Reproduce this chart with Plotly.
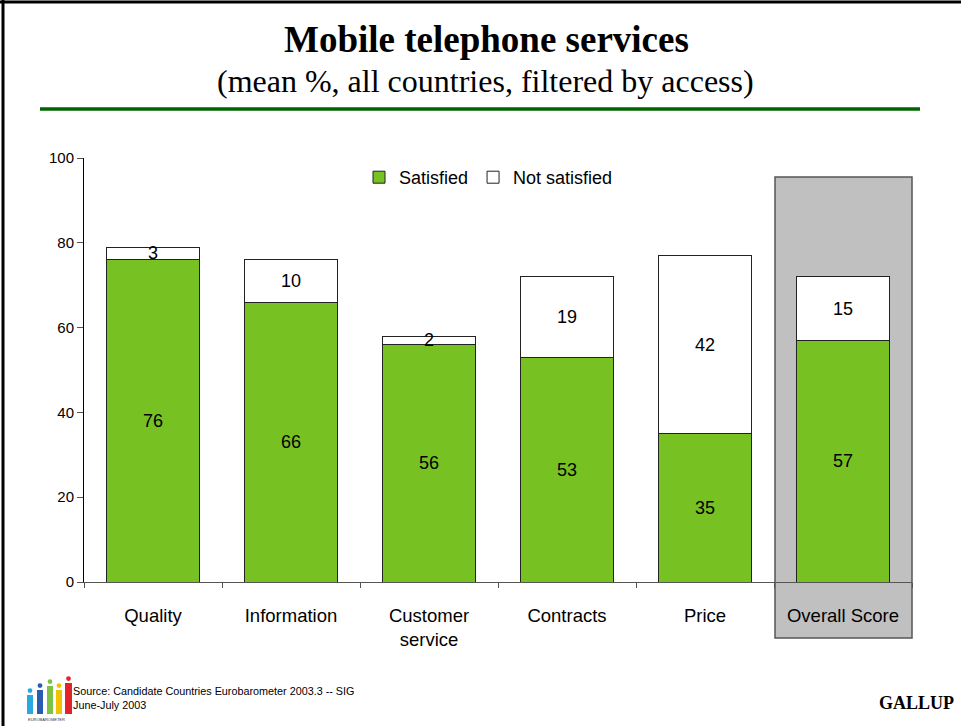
import plotly.graph_objects as go

categories = ["Quality", "Information", "Customer<br>service", "Contracts", "Price", "Overall Score"]
satisfied = [76, 66, 56, 53, 35, 57]
not_satisfied = [3, 10, 2, 19, 42, 15]
y_ticks = [0, 20, 40, 60, 80, 100]

GREEN = "#78C123"
W, H = 961, 726
L, R, T, B = 84, 49, 158, 144
SANS = "Arial, Liberation Sans"
SERIF = "Liberation Serif, Times New Roman"

fig = go.Figure()
for vals, name, col in [(satisfied, "Satisfied", GREEN), (not_satisfied, "Not satisfied", "white")]:
    fig.add_trace(go.Bar(
        x=categories, y=vals, name=name,
        marker=dict(color=col, line=dict(color="#222222", width=1)),
        text=vals, textposition="inside", insidetextanchor="middle",
        constraintext="none", textangle=0,
        textfont=dict(family=SANS, size=18, color="black"),
        width=0.667,
    ))


def px_x(p):
    return (p - L) / (W - L - R)


def px_y(p):
    return (H - B - p) / (H - T - B)


shapes = [
    # highlight panel behind the overall score
    dict(type="rect", xref="paper", yref="paper", layer="below",
         x0=px_x(775), x1=px_x(912), y0=px_y(638), y1=px_y(177),
         fillcolor="#C0C0C0", line=dict(color="#555555", width=1.5)),
    # header rule
    dict(type="line", xref="paper", yref="paper",
         x0=px_x(40), x1=px_x(920), y0=px_y(109), y1=px_y(109),
         line=dict(color="#006400", width=3.5)),
    # slide frame (top and left)
    dict(type="line", xref="paper", yref="paper",
         x0=px_x(0), x1=px_x(961), y0=px_y(2), y1=px_y(2),
         line=dict(color="black", width=3)),
    dict(type="line", xref="paper", yref="paper",
         x0=px_x(3), x1=px_x(3), y0=px_y(0), y1=px_y(726),
         line=dict(color="black", width=3)),
]

# Eurobarometer logo: coloured figures
logo = [("#2AA9E0", 27, 695, 6), ("#2A5DB0", 37, 690, 6), ("#7DC242", 47, 686, 6),
        ("#F2C200", 56, 690, 6), ("#E2232A", 65, 683, 7)]
for col, xl, ytop, w in logo:
    shapes.append(dict(type="rect", xref="paper", yref="paper",
                       x0=px_x(xl), x1=px_x(xl + w), y0=px_y(714), y1=px_y(ytop),
                       fillcolor=col, line=dict(width=0)))
    shapes.append(dict(type="circle", xref="paper", yref="paper",
                       x0=px_x(xl + w / 2 - 2.4), x1=px_x(xl + w / 2 + 2.4),
                       y0=px_y(ytop - 2), y1=px_y(ytop - 6.8),
                       fillcolor=col, line=dict(width=0)))

annotations = [
    dict(text="<b>Mobile telephone services</b>", x=px_x(486), y=px_y(40),
         font=dict(family=SERIF, size=37, color="black")),
    dict(text="(mean %, all countries, filtered by access)", x=px_x(485), y=px_y(81),
         font=dict(family=SERIF, size=32, color="black")),
    dict(text="Source: Candidate Countries Eurobarometer 2003.3 -- SIG<br>June-July 2003",
         x=px_x(71), y=px_y(698), xanchor="left", align="left",
         font=dict(family=SANS, size=10.8, color="black")),
    dict(text="EUROBAROMETER", x=px_x(46), y=px_y(719),
         font=dict(family=SANS, size=4, color="#333333")),
    dict(text="<b>GALLUP</b>", x=px_x(956), y=px_y(703), xanchor="right",
         font=dict(family=SERIF, size=18, color="black")),
]
for a in annotations:
    a.setdefault("xanchor", "center")
    a.update(xref="paper", yref="paper", yanchor="middle", showarrow=False)

fig.update_layout(
    width=W, height=H,
    margin=dict(l=L, r=R, t=T, b=B, pad=0),
    barmode="stack",
    paper_bgcolor="white",
    plot_bgcolor="rgba(0,0,0,0)",
    font=dict(family=SANS, color="black"),
    shapes=shapes,
    annotations=annotations,
    showlegend=True,
    legend=dict(orientation="h", x=px_x(359), y=px_y(159), xanchor="left", yanchor="top",
                bgcolor="rgba(0,0,0,0)", font=dict(size=18, family=SANS),
                itemwidth=30, traceorder="normal", tracegroupgap=0),
    xaxis=dict(range=[-0.5, 5.5], showline=True, linecolor="#555555", linewidth=1,
               ticks="outside", tickson="boundaries", ticklen=5, tickcolor="#555555",
               tickfont=dict(size=18.5, family=SANS),
               ticklabelstandoff=17, showgrid=False, zeroline=False),
    yaxis=dict(range=[0, 100], tickvals=y_ticks, showline=True, linecolor="black",
               linewidth=1, ticks="outside", ticklen=6, tickcolor="#555555",
               tickfont=dict(size=15, family=SANS),
               showgrid=False, zeroline=False),
)

fig.write_html("out.html")
